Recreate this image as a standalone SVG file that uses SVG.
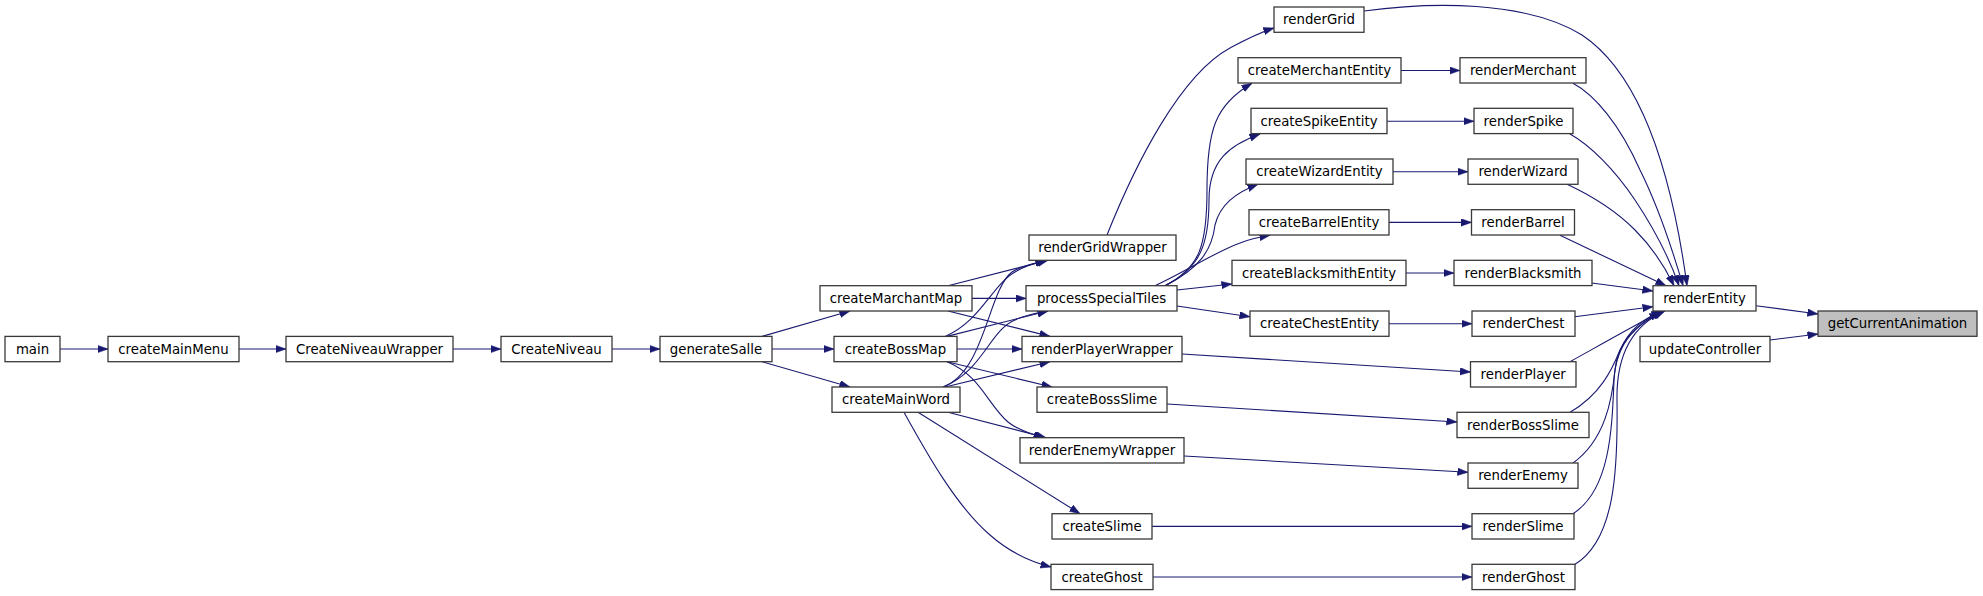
<svg xmlns="http://www.w3.org/2000/svg" width="1983" height="596" viewBox="0 0 1983 596">
<defs>
<marker id="ah" markerWidth="11" markerHeight="8" refX="10.5" refY="3.75" orient="auto" markerUnits="userSpaceOnUse"><path d="M0,0 L10.5,3.75 L0,7.5 Z" fill="#191970" stroke="#191970" stroke-width="0.5"/></marker>
</defs>
<style>
.n rect{fill:#ffffff;stroke:#3a3a3a;stroke-width:1.3}
.n text{font-family:"DejaVu Sans","Liberation Sans",sans-serif;font-size:13.3px;fill:#000;text-anchor:middle}
#cur rect{fill:#bfbfbf}
#edges path{fill:none;stroke:#191970;stroke-width:1.1;marker-end:url(#ah)}
</style>
<rect width="1983" height="596" fill="#ffffff"/>
<g id="edges">
<path d="M60,349 L108,349"/>
<path d="M239,349 L286,349"/>
<path d="M453,349 L501,349"/>
<path d="M612,349 L660,349"/>
<path d="M762,336.4 L850,311"/>
<path d="M772,349 L834,349"/>
<path d="M762,361.7 L850,387"/>
<path d="M948,285.7 L1048,260.3"/>
<path d="M972,298.4 L1026,298.4"/>
<path d="M948,311 L1050,336.4"/>
<path d="M945,336.4 C980,322 992,285 1015,272 C1025,266 1035,263 1046,260.5"/>
<path d="M947,336.4 L1048,311"/>
<path d="M957,349 L1022,349"/>
<path d="M947,361.7 L1052,387"/>
<path d="M947,361.7 C980,375 988,405 1008,422 C1018,430 1030,434 1044,437.7"/>
<path d="M943,387 C985,372 988,290 1012,272 C1022,266 1034,263 1046,260.5"/>
<path d="M943,387 C982,372 990,330 1015,320 C1025,315 1036,313 1048,311"/>
<path d="M945,387 L1050,361.7"/>
<path d="M948,412.3 L1046,437.7"/>
<path d="M918,412.3 L1080,513.7"/>
<path d="M904,412.3 C925,450 955,505 990,535 C1008,551 1028,561 1051,567"/>
<path d="M1107,235 C1135,165 1180,75 1230,48 C1245,40 1258,33 1274,28"/>
<path d="M1165,285.7 C1200,268 1207,245 1207,190 C1207,130 1215,105 1252,83.3"/>
<path d="M1165,285.7 C1200,268 1209,245 1209,200 C1209,160 1230,145 1260,134"/>
<path d="M1165,285.7 C1200,268 1212,250 1215,225 C1220,205 1235,193 1258,184.3"/>
<path d="M1155,285.7 C1185,272 1215,252 1240,243 C1250,239 1260,237 1270,235.3"/>
<path d="M1177,290 L1232,284"/>
<path d="M1177,306 L1250,316.7"/>
<path d="M1401,70.5 L1460,70.5"/>
<path d="M1387,121.2 L1474,121.2"/>
<path d="M1393,171.7 L1468,171.7"/>
<path d="M1389,222.4 L1471.5,222.4"/>
<path d="M1406,273 L1454,273"/>
<path d="M1389,323.7 L1472,323.7"/>
<path d="M1182,354 L1470.5,372"/>
<path d="M1167,404 L1457,422"/>
<path d="M1184,456 L1468,472.3"/>
<path d="M1152,526.4 L1472,526.4"/>
<path d="M1153,577 L1472,577"/>
<path d="M1364,11 C1430,2 1525,0 1582,35 C1642,75 1672,175 1687,285.7"/>
<path d="M1573,83.3 C1595,95 1620,125 1640,170 C1660,210 1674,255 1683,285.7"/>
<path d="M1570,134 C1590,145 1615,170 1635,200 C1655,230 1670,260 1679,285.7"/>
<path d="M1567,184.3 C1590,195 1615,210 1635,230 C1650,245 1664,265 1674,285.7"/>
<path d="M1560,235.3 L1666,285.7"/>
<path d="M1591.6,283 L1653,291"/>
<path d="M1574.6,316.7 L1653,306.7"/>
<path d="M1570,361.7 C1600,345 1630,328 1660,312"/>
<path d="M1570,412.3 C1600,395 1612,370 1620,350 C1630,328 1645,318 1662,311"/>
<path d="M1573,463 C1605,440 1612,400 1615,370 C1618,340 1640,322 1663,311"/>
<path d="M1573,513.7 C1610,490 1612,430 1614,380 C1616,340 1640,322 1664,311"/>
<path d="M1575,564.3 C1615,540 1618,470 1617,400 C1616,345 1640,322 1665,311"/>
<path d="M1756,305.7 L1818,314"/>
<path d="M1770,340 L1818,334"/>
</g>
<g id="main" class="n"><rect x="5" y="336.4" width="55" height="25.3"/><text x="32.5" y="353.6">main</text></g>
<g id="createMainMenu" class="n"><rect x="108" y="336.4" width="131" height="25.3"/><text x="173.5" y="353.6">createMainMenu</text></g>
<g id="CreateNiveauWrapper" class="n"><rect x="286" y="336.4" width="167" height="25.3"/><text x="369.5" y="353.6">CreateNiveauWrapper</text></g>
<g id="CreateNiveau" class="n"><rect x="501" y="336.4" width="111" height="25.3"/><text x="556.5" y="353.6">CreateNiveau</text></g>
<g id="generateSalle" class="n"><rect x="660" y="336.4" width="112" height="25.3"/><text x="716" y="353.6">generateSalle</text></g>
<g id="createMarchantMap" class="n"><rect x="820" y="285.7" width="152" height="25.3"/><text x="896" y="302.9">createMarchantMap</text></g>
<g id="createBossMap" class="n"><rect x="834" y="336.4" width="123" height="25.3"/><text x="895.5" y="353.6">createBossMap</text></g>
<g id="createMainWord" class="n"><rect x="832" y="387" width="128" height="25.3"/><text x="896" y="404.2">createMainWord</text></g>
<g id="renderGridWrapper" class="n"><rect x="1029" y="235" width="147" height="25.3"/><text x="1102.5" y="252.2">renderGridWrapper</text></g>
<g id="processSpecialTiles" class="n"><rect x="1026" y="285.7" width="151" height="25.3"/><text x="1101.5" y="302.9">processSpecialTiles</text></g>
<g id="renderPlayerWrapper" class="n"><rect x="1022" y="336.4" width="160" height="25.3"/><text x="1102" y="353.6">renderPlayerWrapper</text></g>
<g id="createBossSlime" class="n"><rect x="1037" y="387" width="130" height="25.3"/><text x="1102" y="404.2">createBossSlime</text></g>
<g id="renderEnemyWrapper" class="n"><rect x="1020" y="437.7" width="164" height="25.3"/><text x="1102" y="454.9">renderEnemyWrapper</text></g>
<g id="createSlime" class="n"><rect x="1052" y="513.7" width="100" height="25.3"/><text x="1102" y="530.9">createSlime</text></g>
<g id="createGhost" class="n"><rect x="1051" y="564.3" width="102" height="25.3"/><text x="1102" y="581.5">createGhost</text></g>
<g id="renderGrid" class="n"><rect x="1274" y="7" width="90" height="25.3"/><text x="1319" y="24.2">renderGrid</text></g>
<g id="createMerchantEntity" class="n"><rect x="1238" y="57.7" width="163" height="25.3"/><text x="1319.5" y="74.9">createMerchantEntity</text></g>
<g id="createSpikeEntity" class="n"><rect x="1251" y="108.3" width="136" height="25.3"/><text x="1319" y="125.5">createSpikeEntity</text></g>
<g id="createWizardEntity" class="n"><rect x="1246" y="159" width="147" height="25.3"/><text x="1319.5" y="176.2">createWizardEntity</text></g>
<g id="createBarrelEntity" class="n"><rect x="1249" y="209.7" width="140" height="25.3"/><text x="1319" y="226.9">createBarrelEntity</text></g>
<g id="createBlacksmithEntity" class="n"><rect x="1232" y="260.3" width="174" height="25.3"/><text x="1319" y="277.5">createBlacksmithEntity</text></g>
<g id="createChestEntity" class="n"><rect x="1250" y="311" width="139" height="25.3"/><text x="1319.5" y="328.2">createChestEntity</text></g>
<g id="renderMerchant" class="n"><rect x="1460" y="57.7" width="126" height="25.3"/><text x="1523" y="74.9">renderMerchant</text></g>
<g id="renderSpike" class="n"><rect x="1474" y="108.3" width="99" height="25.3"/><text x="1523.5" y="125.5">renderSpike</text></g>
<g id="renderWizard" class="n"><rect x="1468" y="159" width="110" height="25.3"/><text x="1523" y="176.2">renderWizard</text></g>
<g id="renderBarrel" class="n"><rect x="1471.5" y="209.7" width="103" height="25.3"/><text x="1523" y="226.9">renderBarrel</text></g>
<g id="renderBlacksmith" class="n"><rect x="1454" y="260.3" width="138" height="25.3"/><text x="1523" y="277.5">renderBlacksmith</text></g>
<g id="renderChest" class="n"><rect x="1472" y="311" width="103" height="25.3"/><text x="1523.5" y="328.2">renderChest</text></g>
<g id="renderPlayer" class="n"><rect x="1470.5" y="361.7" width="105.5" height="25.3"/><text x="1523.2" y="378.9">renderPlayer</text></g>
<g id="renderBossSlime" class="n"><rect x="1457" y="412.3" width="132" height="25.3"/><text x="1523" y="429.5">renderBossSlime</text></g>
<g id="renderEnemy" class="n"><rect x="1468" y="463" width="110" height="25.3"/><text x="1523" y="480.2">renderEnemy</text></g>
<g id="renderSlime" class="n"><rect x="1472" y="513.7" width="102" height="25.3"/><text x="1523" y="530.9">renderSlime</text></g>
<g id="renderGhost" class="n"><rect x="1472" y="564.3" width="103" height="25.3"/><text x="1523.5" y="581.5">renderGhost</text></g>
<g id="renderEntity" class="n"><rect x="1653" y="285.7" width="103" height="25.3"/><text x="1704.5" y="302.9">renderEntity</text></g>
<g id="updateController" class="n"><rect x="1640" y="336.4" width="130" height="25.3"/><text x="1705" y="353.6">updateController</text></g>
<g id="cur" class="n"><rect x="1818" y="311" width="159" height="25.3"/><text x="1897.5" y="328.2">getCurrentAnimation</text></g>
</svg>
